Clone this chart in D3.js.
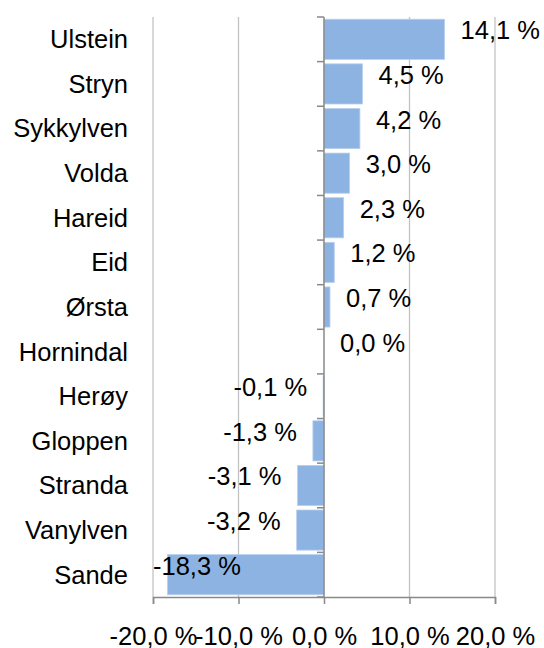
<html>
  <meta charset="utf-8" />
  <script src="https://d3js.org/d3.v7.min.js"></script>
  <style>
    body { margin: 0; background: #fff; }
    text { font-family: "Liberation Sans", Arial, sans-serif; fill: #000; }
  </style>
  <body>
    <svg width="544" height="648" id="chart"></svg>
  </body>
  <script>
    const kommuner = ["Ulstein", "Stryn", "Sykkylven", "Volda", "Hareid", "Eid", "Ørsta",
      "Hornindal", "Herøy", "Gloppen", "Stranda", "Vanylven", "Sande"];
    const endring = [14.1, 4.5, 4.2, 3.0, 2.3, 1.2, 0.7, 0.0, -0.1, -1.3, -3.1, -3.2, -18.3];
    const xTicks = [-20, -10, 0, 10, 20];

    const fmt = (v, d) => v.toFixed(d).replace(".", ",") + " %";
    const fontSize = 25.5;

    const plotTop = 17, plotBottom = 597, plotLeft = 153, plotRight = 495;
    const svg = d3.select("#chart");

    const x = d3.scaleLinear().domain([-20, 20]).range([plotLeft, plotRight]);
    const y = d3.scaleBand().domain(kommuner).range([plotTop, plotBottom])
      .paddingInner(0.1).paddingOuter(0.05);
    const step = y.step();

    // gridlines
    svg.append("g")
      .selectAll("line")
      .data(xTicks.filter((t) => t !== 0))
      .enter()
      .append("line")
      .attr("x1", (t) => x(t)).attr("x2", (t) => x(t))
      .attr("y1", plotTop).attr("y2", plotBottom)
      .attr("stroke", "#c3c3c3").attr("stroke-width", 1.3);

    // bars
    svg.append("g")
      .selectAll("rect")
      .data(endring)
      .enter()
      .append("rect")
      .attr("x", (v) => x(Math.min(0, v)))
      .attr("width", (v) => Math.abs(x(v) - x(0)))
      .attr("y", (v, i) => y(kommuner[i]))
      .attr("height", y.bandwidth())
      .attr("fill", "#8db3e2")
      .attr("stroke", "#b9d0ee")
      .attr("stroke-width", 0.8);

    // zero axis with category ticks
    const zero = svg.append("g").attr("stroke", "#898989").attr("stroke-width", 1.5);
    zero.append("line")
      .attr("x1", x(0)).attr("x2", x(0)).attr("y1", plotTop).attr("y2", plotBottom);
    zero.selectAll("line.tk")
      .data(d3.range(kommuner.length + 1))
      .enter()
      .append("line")
      .attr("class", "tk")
      .attr("x1", x(0) - 7).attr("x2", x(0))
      .attr("y1", (i) => plotTop + i * step).attr("y2", (i) => plotTop + i * step);

    // bottom axis
    const xAxis = svg.append("g")
      .attr("transform", `translate(0,${plotBottom})`)
      .call(d3.axisBottom(x).tickValues(xTicks).tickSize(7).tickPadding(23)
        .tickFormat((t) => fmt(t, 1)));
    xAxis.select(".domain").attr("stroke", "#898989").attr("stroke-width", 1.5);
    xAxis.selectAll(".tick line").attr("stroke", "#898989").attr("stroke-width", 1.5);
    xAxis.selectAll(".tick text")
      .attr("font-size", fontSize)
      .attr("font-family", "Liberation Sans, Arial, sans-serif")
      .attr("fill", "#000");

    // category labels
    svg.append("g")
      .selectAll("text")
      .data(kommuner)
      .enter()
      .append("text")
      .attr("x", 128)
      .attr("y", (k) => y(k) + y.bandwidth() / 2)
      .attr("dy", "0.35em")
      .attr("text-anchor", "end")
      .attr("font-size", fontSize)
      .text((k) => k);

    // data labels
    svg.append("g")
      .selectAll("text")
      .data(endring)
      .enter()
      .append("text")
      .attr("font-size", fontSize)
      .attr("y", (v, i) => y(kommuner[i]) + y.bandwidth() / 2)
      .attr("text-anchor", (v) => (v >= 0 ? "start" : "end"))
      .attr("x", (v) => (v >= 0 ? x(v) + 16 : x(v) - 16))
      .text((v) => fmt(v, 1))
      .each(function (v) {
        if (v < 0) {
          const w = this.getComputedTextLength();
          const xe = Math.max(x(v) - 16, plotLeft + w);
          d3.select(this).attr("x", xe);
        }
      });
  </script>
</html>
